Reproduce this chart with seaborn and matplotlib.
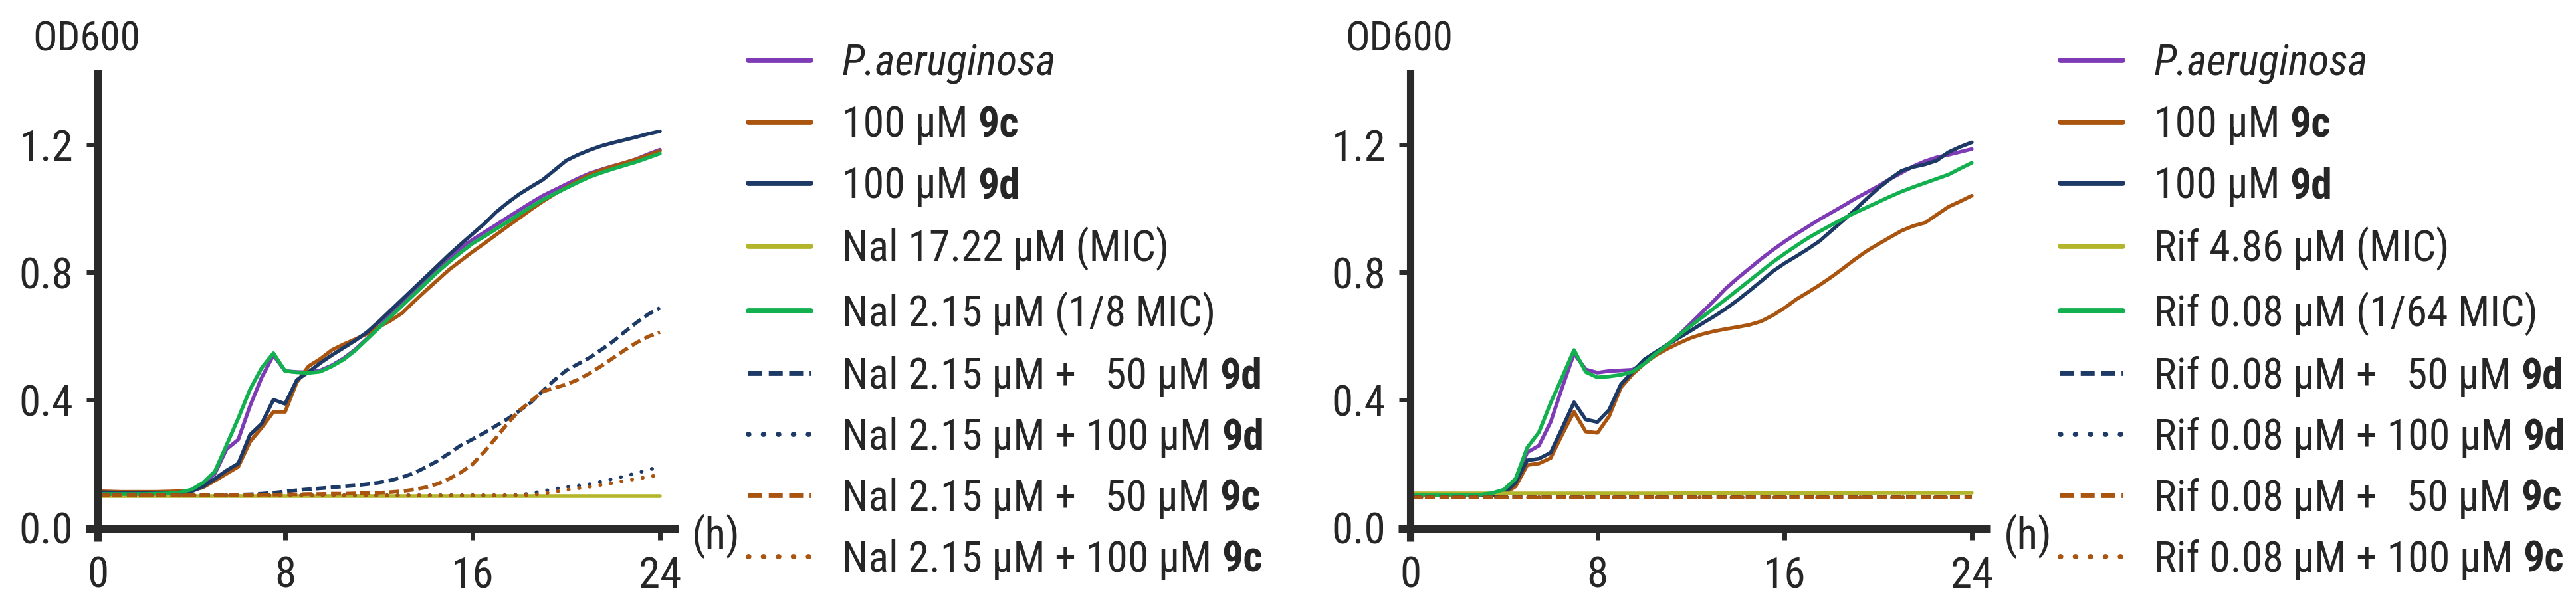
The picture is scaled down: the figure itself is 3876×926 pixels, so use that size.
import numpy as np
import pandas as pd
import matplotlib
matplotlib.use("Agg")
import matplotlib.pyplot as plt
import seaborn as sns

# ---------------- data ----------------
hours = np.arange(0, 24.5, 0.5)

# left panel (Nalidixic acid)
L_pa = [0.108, 0.108, 0.107, 0.107, 0.106, 0.106, 0.107, 0.109,
        0.116, 0.136, 0.168, 0.245, 0.275, 0.380, 0.470, 0.540,
        0.490, 0.487, 0.486, 0.492, 0.508, 0.530, 0.558, 0.592,
        0.628, 0.665, 0.702, 0.738, 0.774, 0.810, 0.845, 0.875,
        0.902, 0.925, 0.948, 0.972, 0.995, 1.018, 1.040, 1.058,
        1.076, 1.094, 1.110, 1.122, 1.133, 1.143, 1.155, 1.170, 1.184]
L_9c = [0.113, 0.112, 0.111, 0.111, 0.111, 0.111, 0.112, 0.113,
        0.115, 0.125, 0.146, 0.168, 0.190, 0.268, 0.312, 0.362,
        0.362, 0.455, 0.505, 0.528, 0.556, 0.574, 0.590, 0.607,
        0.628, 0.648, 0.672, 0.708, 0.742, 0.775, 0.808, 0.836,
        0.864, 0.890, 0.917, 0.944, 0.970, 0.997, 1.022, 1.045,
        1.066, 1.087, 1.106, 1.120, 1.132, 1.143, 1.154, 1.167, 1.180]
L_9d = [0.110, 0.109, 0.108, 0.108, 0.108, 0.108, 0.108, 0.109,
        0.112, 0.128, 0.152, 0.178, 0.200, 0.290, 0.325, 0.400,
        0.387, 0.462, 0.487, 0.515, 0.540, 0.563, 0.586, 0.612,
        0.645, 0.680, 0.715, 0.750, 0.785, 0.820, 0.855, 0.888,
        0.920, 0.952, 0.988, 1.018, 1.045, 1.068, 1.090, 1.120,
        1.150, 1.168, 1.183, 1.196, 1.206, 1.215, 1.224, 1.234, 1.242]
L_mic = [0.098, 0.098, 0.098, 0.098, 0.098, 0.098, 0.098, 0.098,
         0.098, 0.098, 0.098, 0.098, 0.098, 0.098, 0.098, 0.098,
         0.098, 0.098, 0.098, 0.098, 0.098, 0.098, 0.098, 0.098,
         0.098, 0.098, 0.098, 0.098, 0.098, 0.098, 0.098, 0.098,
         0.098, 0.098, 0.098, 0.098, 0.098, 0.098, 0.098, 0.098,
         0.098, 0.098, 0.098, 0.098, 0.098, 0.098, 0.098, 0.098, 0.098]
L_sub = [0.104, 0.104, 0.104, 0.104, 0.104, 0.105, 0.106, 0.109,
         0.118, 0.140, 0.175, 0.258, 0.342, 0.432, 0.500, 0.546,
         0.490, 0.486, 0.484, 0.488, 0.505, 0.526, 0.555, 0.590,
         0.625, 0.660, 0.695, 0.730, 0.765, 0.800, 0.832, 0.862,
         0.890, 0.912, 0.935, 0.958, 0.982, 1.005, 1.027, 1.046,
         1.064, 1.082, 1.099, 1.112, 1.124, 1.135, 1.146, 1.159, 1.172]
L_50_9d = [0.100, 0.100, 0.100, 0.100, 0.100, 0.100, 0.100, 0.100,
           0.100, 0.100, 0.101, 0.101, 0.102, 0.103, 0.105, 0.108,
           0.112, 0.116, 0.119, 0.122, 0.125, 0.128, 0.131, 0.135,
           0.140, 0.147, 0.157, 0.170, 0.188, 0.208, 0.232, 0.257,
           0.276, 0.296, 0.318, 0.340, 0.365, 0.392, 0.428, 0.462,
           0.492, 0.512, 0.532, 0.557, 0.583, 0.613, 0.642, 0.668, 0.688]
L_100_9d = [0.100, 0.100, 0.100, 0.100, 0.100, 0.100, 0.100, 0.100,
            0.100, 0.100, 0.100, 0.100, 0.100, 0.100, 0.100, 0.100,
            0.100, 0.100, 0.100, 0.100, 0.100, 0.100, 0.100, 0.100,
            0.100, 0.100, 0.100, 0.100, 0.100, 0.100, 0.100, 0.100,
            0.100, 0.100, 0.100, 0.100, 0.101, 0.106, 0.113, 0.120,
            0.126, 0.130, 0.135, 0.143, 0.152, 0.160, 0.170, 0.180, 0.190]
L_50_9c = [0.100, 0.100, 0.100, 0.100, 0.100, 0.100, 0.100, 0.100,
           0.100, 0.100, 0.100, 0.100, 0.101, 0.101, 0.102, 0.102,
           0.103, 0.103, 0.104, 0.104, 0.105, 0.105, 0.106, 0.107,
           0.108, 0.110, 0.113, 0.118, 0.125, 0.136, 0.152, 0.172,
           0.198, 0.237, 0.280, 0.326, 0.366, 0.396, 0.426, 0.437,
           0.448, 0.463, 0.483, 0.506, 0.531, 0.556, 0.579, 0.598, 0.612]
L_100_9c = [0.100, 0.100, 0.100, 0.100, 0.100, 0.100, 0.100, 0.100,
            0.100, 0.100, 0.100, 0.100, 0.100, 0.100, 0.100, 0.100,
            0.100, 0.100, 0.100, 0.100, 0.100, 0.100, 0.100, 0.100,
            0.100, 0.100, 0.100, 0.100, 0.100, 0.100, 0.100, 0.100,
            0.100, 0.100, 0.100, 0.100, 0.100, 0.101, 0.105, 0.111,
            0.117, 0.122, 0.127, 0.133, 0.139, 0.146, 0.152, 0.158, 0.165]

# right panel (Rifampicin)
R_pa = [0.100, 0.100, 0.100, 0.100, 0.100, 0.100, 0.101, 0.104,
        0.114, 0.148, 0.235, 0.256, 0.330, 0.440, 0.545, 0.495,
        0.485, 0.490, 0.492, 0.494, 0.515, 0.545, 0.572, 0.604,
        0.640, 0.676, 0.712, 0.750, 0.782, 0.812, 0.842, 0.870,
        0.896, 0.920, 0.943, 0.966, 0.987, 1.008, 1.030, 1.050,
        1.070, 1.092, 1.112, 1.132, 1.148, 1.160, 1.168, 1.177, 1.186]
R_9c = [0.100, 0.100, 0.100, 0.100, 0.100, 0.100, 0.100, 0.100,
        0.104, 0.128, 0.195, 0.200, 0.217, 0.292, 0.362, 0.300,
        0.296, 0.348, 0.438, 0.480, 0.513, 0.540, 0.560, 0.578,
        0.594, 0.606, 0.615, 0.622, 0.628, 0.635, 0.646, 0.665,
        0.688, 0.715, 0.737, 0.760, 0.785, 0.812, 0.840, 0.866,
        0.888, 0.909, 0.930, 0.945, 0.955, 0.980, 1.005, 1.022, 1.040]
R_9d = [0.100, 0.100, 0.100, 0.100, 0.100, 0.100, 0.100, 0.101,
        0.106, 0.140, 0.210, 0.215, 0.234, 0.312, 0.392, 0.338,
        0.330, 0.368, 0.448, 0.488, 0.526, 0.550, 0.573, 0.595,
        0.617, 0.640, 0.662, 0.686, 0.713, 0.742, 0.772, 0.803,
        0.828, 0.850, 0.873, 0.898, 0.930, 0.962, 0.995, 1.030,
        1.063, 1.092, 1.118, 1.130, 1.138, 1.150, 1.176, 1.193, 1.207]
R_mic = [0.106, 0.106, 0.106, 0.106, 0.106, 0.106, 0.106, 0.106,
         0.106, 0.106, 0.106, 0.106, 0.106, 0.106, 0.106, 0.106,
         0.106, 0.106, 0.106, 0.106, 0.106, 0.106, 0.106, 0.107,
         0.107, 0.107, 0.107, 0.107, 0.107, 0.107, 0.107, 0.107,
         0.107, 0.107, 0.107, 0.107, 0.107, 0.107, 0.107, 0.107,
         0.108, 0.108, 0.108, 0.108, 0.108, 0.108, 0.108, 0.108, 0.108]
R_sub = [0.100, 0.100, 0.100, 0.100, 0.100, 0.100, 0.102, 0.107,
         0.118, 0.152, 0.250, 0.298, 0.390, 0.472, 0.556, 0.487,
         0.470, 0.473, 0.478, 0.488, 0.513, 0.545, 0.572, 0.603,
         0.632, 0.660, 0.688, 0.716, 0.745, 0.774, 0.803, 0.832,
         0.858, 0.883, 0.907, 0.928, 0.948, 0.968, 0.986, 1.003,
         1.020, 1.037, 1.053, 1.067, 1.080, 1.093, 1.106, 1.125, 1.143]
R_50_9d = [0.095, 0.095, 0.095, 0.095, 0.095, 0.095, 0.095, 0.095,
           0.095, 0.095, 0.095, 0.095, 0.095, 0.095, 0.095, 0.095,
           0.095, 0.095, 0.095, 0.095, 0.095, 0.095, 0.095, 0.095,
           0.095, 0.095, 0.095, 0.095, 0.095, 0.095, 0.095, 0.095,
           0.095, 0.095, 0.095, 0.095, 0.095, 0.095, 0.095, 0.095,
           0.095, 0.095, 0.095, 0.095, 0.095, 0.095, 0.095, 0.095, 0.095]
R_100_9d = [0.094, 0.094, 0.094, 0.094, 0.094, 0.094, 0.094, 0.094,
            0.094, 0.094, 0.094, 0.094, 0.094, 0.094, 0.094, 0.094,
            0.094, 0.094, 0.094, 0.094, 0.094, 0.094, 0.094, 0.094,
            0.094, 0.094, 0.094, 0.094, 0.094, 0.094, 0.094, 0.094,
            0.094, 0.094, 0.094, 0.094, 0.094, 0.094, 0.094, 0.094,
            0.094, 0.094, 0.094, 0.094, 0.094, 0.094, 0.094, 0.094, 0.094]
R_50_9c = [0.094, 0.094, 0.094, 0.094, 0.094, 0.094, 0.094, 0.094,
           0.094, 0.094, 0.094, 0.094, 0.094, 0.094, 0.094, 0.094,
           0.094, 0.094, 0.094, 0.094, 0.094, 0.094, 0.094, 0.094,
           0.094, 0.094, 0.094, 0.094, 0.094, 0.094, 0.094, 0.094,
           0.094, 0.094, 0.094, 0.094, 0.094, 0.094, 0.094, 0.094,
           0.094, 0.094, 0.094, 0.094, 0.094, 0.094, 0.094, 0.094, 0.094]
R_100_9c = [0.093, 0.093, 0.093, 0.093, 0.093, 0.093, 0.093, 0.093,
            0.093, 0.093, 0.093, 0.093, 0.093, 0.093, 0.093, 0.093,
            0.093, 0.093, 0.093, 0.093, 0.093, 0.093, 0.093, 0.093,
            0.093, 0.093, 0.093, 0.093, 0.093, 0.093, 0.093, 0.093,
            0.093, 0.093, 0.093, 0.093, 0.093, 0.093, 0.093, 0.093,
            0.093, 0.093, 0.093, 0.093, 0.093, 0.093, 0.093, 0.093, 0.093]

# legend labels: (plain part, bold part)
L_labels = [("P.aeruginosa", ""), ("100 μM", "9c"), ("100 μM", "9d"),
            ("Nal 17.22 μM (MIC)", ""), ("Nal 2.15 μM (1/8 MIC)", ""),
            ("Nal 2.15 μM +   50 μM", "9d"), ("Nal 2.15 μM + 100 μM", "9d"),
            ("Nal 2.15 μM +   50 μM", "9c"), ("Nal 2.15 μM + 100 μM", "9c")]
R_labels = [("P.aeruginosa", ""), ("100 μM", "9c"), ("100 μM", "9d"),
            ("Rif 4.86 μM (MIC)", ""), ("Rif 0.08 μM (1/64 MIC)", ""),
            ("Rif 0.08 μM +   50 μM", "9d"), ("Rif 0.08 μM + 100 μM", "9d"),
            ("Rif 0.08 μM +   50 μM", "9c"), ("Rif 0.08 μM + 100 μM", "9c")]

x_ticks = [0, 8, 16, 24]
y_ticks = [0.0, 0.4, 0.8, 1.2]
y_ticklabels = ["0.0", "0.4", "0.8", "1.2"]

# ---------------- style ----------------
sns.set_style("ticks")
FONT = ["Roboto Condensed", "Liberation Sans", "DejaVu Sans"]
plt.rcParams["font.family"] = FONT
TXT = "#262626"
AX = "#2a2a2a"

PURPLE = "#7D3CB5"
ORANGE = "#A9540F"
NAVY = "#1D3A66"
OLIVE = "#B3B52A"
GREEN = "#12B04F"
colors = [PURPLE, ORANGE, NAVY, OLIVE, GREEN, NAVY, NAVY, ORANGE, ORANGE]
DASH = (2.7, 1.25)
DOT = (0.1, 2.8)
dash_list = ["", "", "", "", "", DASH, DOT, DASH, DOT]

W, H = 3876, 926
fig = plt.figure(figsize=(W / 100, H / 100), dpi=100)

def px_rect(x0, x1, ytop, ybot):
    return [x0 / W, (H - ybot) / H, (x1 - x0) / W, (ybot - ytop) / H]

ax_l = fig.add_axes(px_rect(129.4, 1021.2, 105, 815))
ax_r = fig.add_axes(px_rect(2104.4, 2995.0, 105, 815))

panels = [
    (ax_l, [L_pa, L_9c, L_9d, L_mic, L_sub, L_50_9d, L_100_9d, L_50_9c, L_100_9c], L_labels, 1126),
    (ax_r, [R_pa, R_9c, R_9d, R_mic, R_sub, R_50_9d, R_100_9d, R_50_9c, R_100_9c], R_labels, 3100),
]

FS_TICK = 47
FS_LEG = 46

for ax, series, labels, leg_x in panels:
    names = ["".join(p) + str(i) for i, p in enumerate(labels)]
    frames = []
    for nm, vals in zip(names, series):
        frames.append(pd.DataFrame({"t": hours, "od": vals, "cond": nm}))
    df = pd.concat(frames, ignore_index=True)
    pal = dict(zip(names, colors))
    dsh = dict(zip(names, dash_list))
    sns.lineplot(data=df, x="t", y="od", hue="cond", style="cond",
                 hue_order=names, style_order=names, palette=pal, dashes=dsh,
                 linewidth=4.0, errorbar=None, legend=False, ax=ax)
    lines = ax.get_lines()
    for ln, d in zip(lines, dash_list):
        if d == DOT:
            ln.set_dash_capstyle("round")

    ax.set_xlim(-0.5, 24.8)
    ax.set_ylim(-0.044, 1.435)
    ax.set_xticks(x_ticks)
    ax.set_xticklabels([str(v) for v in x_ticks])
    ax.set_yticks(y_ticks)
    ax.set_yticklabels(y_ticklabels)
    ax.set_xlabel("")
    ax.set_ylabel("")
    for s in ["top", "right"]:
        ax.spines[s].set_visible(False)
    ax.spines["left"].set_position(("data", 0))
    ax.spines["bottom"].set_position(("data", -0.005))
    for s in ["left", "bottom"]:
        ax.spines[s].set_linewidth(8)
        ax.spines[s].set_color(AX)
        ax.spines[s].set_capstyle("butt")
    ax.tick_params(axis="both", direction="out", length=12.5, width=5,
                   color=AX, labelsize=FS_TICK, labelcolor=TXT)
    ax.tick_params(axis="x", pad=16)
    ax.tick_params(axis="y", pad=14)
    ax.patch.set_alpha(0)

    ax.annotate("OD600", xy=(0, 1), xycoords="axes fraction",
                xytext=(-80 / 1.389, 46 / 1.389), textcoords="offset points",
                ha="left", va="center", fontsize=44, color=TXT,
                annotation_clip=False)
    ax.annotate("(h)", xy=(1, 0), xycoords=("axes fraction", "data"),
                xytext=(14, -10), textcoords="offset points",
                ha="left", va="center", fontsize=FS_TICK, color=TXT,
                annotation_clip=False)

    leg = ax.legend(lines[:9], [p for p, b in labels],
                    loc="upper left", bbox_to_anchor=(leg_x / W, (H - 65) / H),
                    bbox_transform=fig.transFigure, frameon=False,
                    fontsize=FS_LEG, borderpad=0, borderaxespad=0,
                    handlelength=1.47, handletextpad=0.73, labelspacing=0.47)
    for h in leg.legend_handles:
        h.set_linewidth(5.6)
    texts = leg.get_texts()
    for t, (p, b) in zip(texts, labels):
        t.set_color(TXT)
        if p == "P.aeruginosa":
            t.set_fontstyle("italic")
        if b:
            ax.annotate(b, xy=(1, 0), xycoords=t,
                        xytext=(0.24 * FS_LEG, 0), textcoords="offset points",
                        ha="left", va="bottom", fontsize=FS_LEG,
                        fontweight="bold", color=TXT, zorder=20,
                        annotation_clip=False)

fig.savefig("out.png", dpi=100, facecolor="white")
